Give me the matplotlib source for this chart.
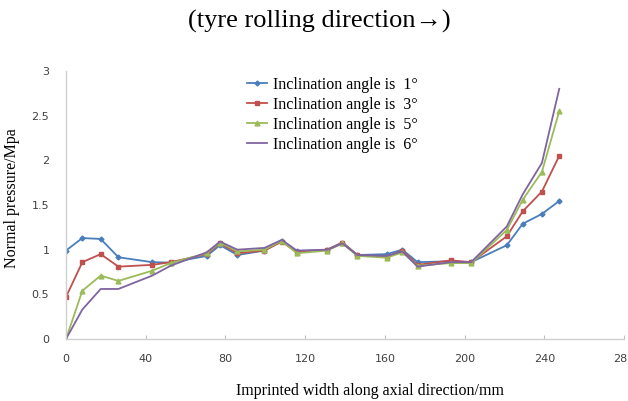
import matplotlib.pyplot as plt

# positions along the imprint (mm)
width_mm = [0, 8.2, 17.4, 26.3, 43.3, 52.5, 70.6, 77.3, 86, 99.6, 108.3, 115.8,
            131.2, 138.7, 146.2, 161, 168.8, 176.4, 193, 203.3, 221.2, 229.2, 238.8, 247.5]

p_1deg = [0.99, 1.13, 1.12, 0.915, 0.86, 0.855, 0.93, 1.05, 0.94, 0.99, 1.10, 0.98,
          1.0, 1.08, 0.94, 0.95, 1.0, 0.86, 0.87, 0.86, 1.05, 1.29, 1.40, 1.545]
p_3deg = [0.47, 0.86, 0.95, 0.81, 0.83, 0.86, 0.95, 1.07, 0.96, 0.99, 1.09, 0.97,
          1.0, 1.08, 0.94, 0.92, 0.99, 0.83, 0.88, 0.86, 1.15, 1.43, 1.65, 2.05]
p_5deg = [0.0, 0.54, 0.71, 0.65, 0.765, 0.85, 0.96, 1.08, 0.98, 1.0, 1.10, 0.96,
          0.99, 1.07, 0.93, 0.91, 0.97, 0.82, 0.85, 0.85, 1.22, 1.56, 1.87, 2.55]
p_6deg = [0.0, 0.33, 0.56, 0.56, 0.71, 0.82, 0.97, 1.09, 1.0, 1.02, 1.11, 0.99,
          1.0, 1.07, 0.94, 0.93, 0.98, 0.81, 0.86, 0.86, 1.26, 1.62, 1.97, 2.80]

labels = ["Inclination angle is  1°", "Inclination angle is  3°",
          "Inclination angle is  5°", "Inclination angle is  6°"]
x_ticks = [0, 40, 80, 120, 160, 200, 240, 280]
y_ticks = [0, 0.5, 1, 1.5, 2, 2.5, 3]
y_ticklabels = ["0", "0.5", "1", "1.5", "2", "2.5", "3"]

serif = "Liberation Serif"

fig = plt.figure(figsize=(6.28, 4.01), dpi=100)
ax = fig.add_axes([66 / 628, 1 - 339 / 401, (624 - 66) / 628, (339 - 71) / 401])

ax.plot(width_mm, p_1deg, color="#4a7ebb", marker="D", markersize=2.5, linewidth=1.3, label=labels[0])
ax.plot(width_mm, p_3deg, color="#c0504d", marker="s", markersize=3.5, linewidth=1.3, label=labels[1])
ax.plot(width_mm, p_5deg, color="#9bbb59", marker="^", markersize=3.5, linewidth=1.3, label=labels[2])
ax.plot(width_mm, p_6deg, color="#8064a2", linewidth=1.3, label=labels[3])

ax.set_xlim(0, 280)
ax.set_ylim(0, 3)
ax.set_xticks(x_ticks)
ax.set_yticks(y_ticks)
ax.set_yticklabels(y_ticklabels)

for side in ["top", "right"]:
    ax.spines[side].set_visible(False)
for side in ["left", "bottom"]:
    ax.spines[side].set_color("#d0d0d0")
    ax.spines[side].set_linewidth(1.0)

ax.tick_params(axis="x", direction="in", length=3, color="#c0c0c0", labelsize=8,
               labelcolor="#404040", pad=11)
ax.tick_params(axis="y", length=0, labelsize=8, labelcolor="#404040", pad=12)

ax.set_xlabel("Imprinted width along axial direction/mm", fontsize=11.5, family=serif)
ax.xaxis.set_label_coords(0.545, -0.165)
ax.set_ylabel("Normal pressure/Mpa", fontsize=11.5, family=serif)
ax.yaxis.set_label_coords(-0.083, 0.525)

leg = ax.legend(loc="upper left", bbox_to_anchor=(0.305, 1.02), frameon=False,
                prop={"family": serif, "size": 11.5}, handlelength=1.2, handletextpad=0.4,
                labelspacing=0.25, borderpad=0.2)

fig.text(0.508, 0.946, "(tyre rolling direction\u2192)", ha="center", va="center",
         fontsize=19, family=serif)

fig.savefig("out.png", dpi=100)
